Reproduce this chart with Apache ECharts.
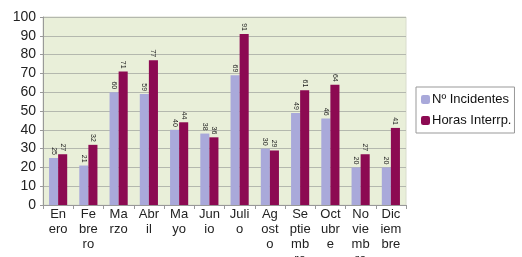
<!DOCTYPE html>
<html>
<head>
<meta charset="utf-8">
<script src="https://cdn.jsdelivr.net/npm/echarts@6/dist/echarts.min.js"></script>
<style>
html,body{margin:0;padding:0;background:#fff;}
#main{width:522px;height:257px;}
</style>
</head>
<body>
<div id="main"></div>
<script>
// meses, cortados como en el original
var meses = ['En\nero', 'Fe\nbre\nro', 'Ma\nrzo', 'Abr\nil', 'Ma\nyo', 'Jun\nio', 'Juli\no', 'Ag\nost\no', 'Se\nptie\nmb\nre', 'Oct\nubr\ne', 'No\nvie\nmb\nre', 'Dic\niem\nbre'];
var incidentes = [25, 21, 60, 59, 40, 38, 69, 30, 49, 46, 20, 20];
var horas = [27, 32, 71, 77, 44, 36, 91, 29, 61, 64, 27, 41];
var yTicks = [0, 10, 20, 30, 40, 50, 60, 70, 80, 90, 100];

var myChart = echarts.init(document.getElementById('main'));

var etiqueta = {
    show: true,
    position: 'top',
    rotate: -90,
    align: 'right',
    verticalAlign: 'middle',
    distance: 3,
    fontSize: 7,
    color: '#222',
    fontFamily: 'Liberation Sans'
};

var option = {
    animation: false,
    textStyle: {fontFamily: 'Liberation Sans'},
    grid: {
        left: 43,
        right: 116,
        top: 17,
        bottom: 52,
        outerBoundsMode: 'none',
        show: true,
        backgroundColor: '#e9efd9',
        borderColor: '#d8dccc',
        borderWidth: 1
    },
    legend: {
        orient: 'vertical',
        left: 416,
        top: 87,
        itemWidth: 9,
        itemHeight: 9,
        itemGap: 8,
        padding: [6, 3, 6, 5],
        borderColor: '#999',
        borderWidth: 1,
        backgroundColor: '#fff',
        textStyle: {fontSize: 13, color: '#111', padding: [0, 0, 0, -3]},
        data: ['Nº Incidentes', 'Horas Interrp.']
    },
    xAxis: {
        type: 'category',
        data: meses,
        axisLine: {lineStyle: {color: '#999'}},
        axisTick: {show: true, length: 4, lineStyle: {color: '#999'}},
        axisLabel: {
            interval: 0,
            fontSize: 13,
            lineHeight: 15,
            color: '#222',
            margin: 2,
            verticalAlign: 'top'
        }
    },
    yAxis: {
        type: 'value',
        min: yTicks[0],
        max: yTicks[yTicks.length - 1],
        interval: 10,
        axisLine: {show: true, lineStyle: {color: '#999'}},
        axisTick: {show: true, length: 3, lineStyle: {color: '#999'}},
        axisLabel: {fontSize: 14, color: '#222', margin: 7},
        splitLine: {lineStyle: {color: '#b4b8ae', width: 1}}
    },
    series: [
        {
            name: 'Nº Incidentes',
            type: 'bar',
            data: incidentes,
            barGap: '0%',
            barCategoryGap: '40%',
            itemStyle: {color: '#a9a9da'},
            label: etiqueta
        },
        {
            name: 'Horas Interrp.',
            type: 'bar',
            data: horas,
            itemStyle: {color: '#8c0a52'},
            label: etiqueta
        }
    ]
};
myChart.setOption(option);
</script>
</body>
</html>
